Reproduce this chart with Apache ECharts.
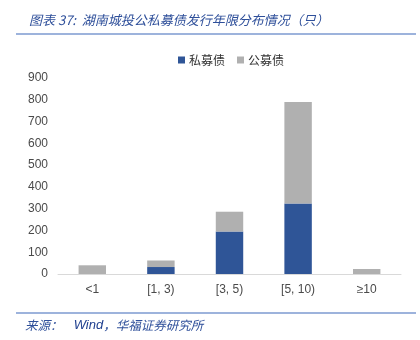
<!DOCTYPE html>
<html>
<head>
<meta charset="utf-8">
<style>
  html, body { margin: 0; padding: 0; background: #fff; }
  #chart { width: 420px; height: 340px; }
</style>
<script src="https://cdn.jsdelivr.net/npm/echarts@6/dist/echarts.min.js"></script>
</head>
<body>
<div id="chart"></div>
<script>
// Issuance tenor buckets (years) and bond counts
const categories = ['<1', '[1, 3)', '[3, 5)', '[5, 10)', '≥10'];
const privateBonds = [0, 32, 195, 324, 0];
const publicBonds = [40, 30, 91, 466, 23];
const yTicks = { min: 0, max: 900, interval: 100 };

const BLUE = '#2F5597';
const GRAY = '#B0B0B0';
const CJK = '"Noto Sans CJK SC", "Noto Sans", sans-serif';
const LATIN = '"Liberation Sans", Arial, sans-serif';

const chart = echarts.init(document.getElementById('chart'), null, { renderer: 'canvas' });

chart.setOption({
  backgroundColor: '#ffffff',
  animation: false,
  title: {
    text: '图表 37:  湖南城投公私募债发行年限分布情况（只）',
    left: 24,
    top: 9,
    textStyle: { color: '#2E4F9A', fontSize: 13, fontWeight: 'normal', fontStyle: 'italic', fontFamily: CJK }
  },
  graphic: [
    { type: 'line', shape: { x1: 16, y1: 34, x2: 416, y2: 34 }, style: { stroke: '#7C9AD0', lineWidth: 1.5 } },
    { type: 'line', shape: { x1: 16, y1: 313, x2: 416, y2: 313 }, style: { stroke: '#7C9AD0', lineWidth: 1.5 } },
    {
      type: 'text', left: 25, top: 319,
      style: {
        text: '来源：    {w|Wind}，华福证券研究所',
        fill: '#2E4F9A', font: 'italic 12.5px ' + CJK,
        rich: { w: { fill: '#1F3F8F', fontSize: 13, fontStyle: 'italic', fontFamily: LATIN } }
      }
    }
  ],
  legend: {
    top: 49,
    left: 173,
    itemWidth: 7,
    itemHeight: 7,
    itemGap: 12,
    icon: 'rect',
    textStyle: { color: '#333', fontSize: 12, fontFamily: CJK, padding: [0, 0, 0, -1] },
    data: ['私募债', '公募债']
  },
  grid: { left: 58, right: 19, top: 78, bottom: 66 },
  xAxis: {
    type: 'category',
    data: categories,
    axisLine: { lineStyle: { color: '#D9D9D9', width: 1 } },
    axisTick: { show: false },
    axisLabel: { color: '#4A4A4A', fontSize: 12, margin: 10, fontFamily: LATIN }
  },
  yAxis: {
    type: 'value',
    min: yTicks.min,
    max: yTicks.max,
    interval: yTicks.interval,
    axisLine: { show: false },
    axisTick: { show: false },
    splitLine: { show: false },
    axisLabel: { color: '#4A4A4A', fontSize: 12, margin: 10, fontFamily: LATIN }
  },
  series: [
    {
      name: '私募债', type: 'bar', stack: 'total', data: privateBonds,
      barWidth: '40%', itemStyle: { color: BLUE }
    },
    {
      name: '公募债', type: 'bar', stack: 'total', data: publicBonds,
      barWidth: '40%', itemStyle: { color: GRAY }
    }
  ]
});
</script>
</body>
</html>
